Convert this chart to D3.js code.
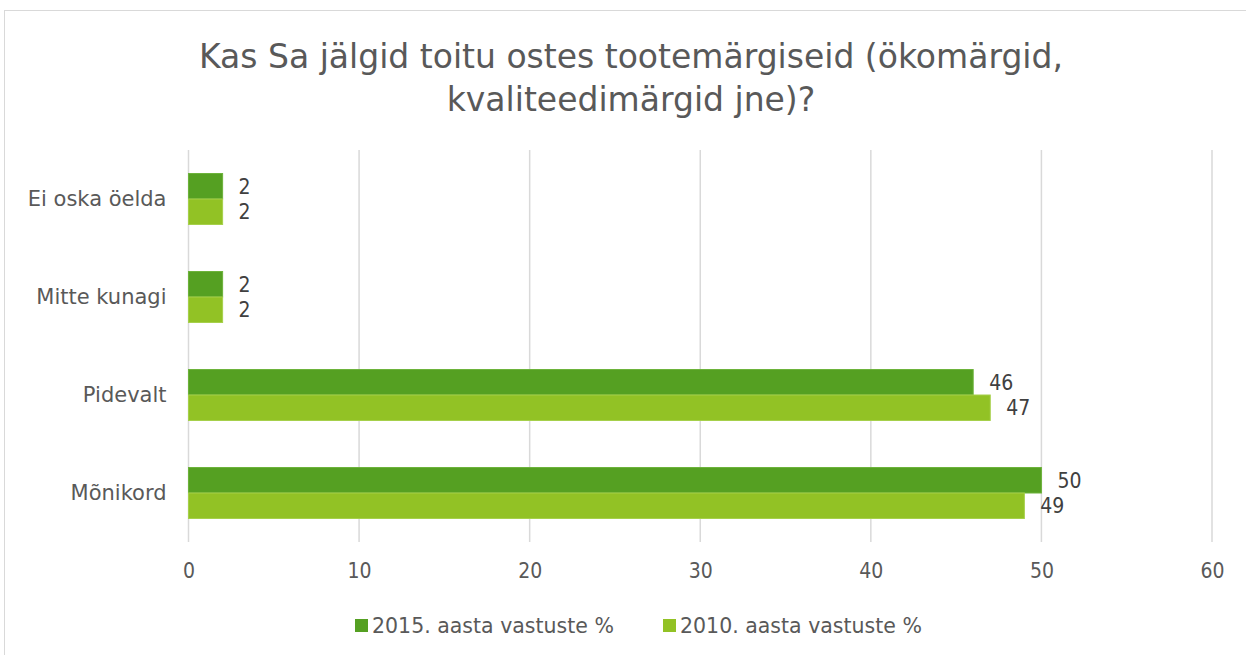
<!DOCTYPE html>
<html>
<head>
<meta charset="utf-8">
<script src="https://cdn.jsdelivr.net/npm/d3@7"></script>
<style>
    body { margin: 0; background: #fff; }
    svg text { font-family: "DejaVu Sans", sans-serif; }
</style>
</head>
<body>
<svg id="plate" width="1246" height="655"></svg>
<script>
var categories = ['Ei oska öelda', 'Mitte kunagi', 'Pidevalt', 'Mõnikord'];
var seriesNames = ['2015. aasta vastuste %', '2010. aasta vastuste %'];
var values2015 = [2, 2, 46, 50];
var values2010 = [2, 2, 47, 49];
var xTicks = [0, 10, 20, 30, 40, 50, 60];
var titleLines = ['Kas Sa jälgid toitu ostes tootemärgiseid (ökomärgid,', 'kvaliteedimärgid jne)?'];

var colors = ['#55a022', '#92c225'];
var strokes = ['#6cb23a', '#a6d04a'];
var numFont = '"DejaVu Sans Condensed", "DejaVu Sans", sans-serif';

var svg = d3.select('#plate');

// outer frame
svg.append('rect')
    .attr('x', 4.5).attr('y', 10.5)
    .attr('width', 1250).attr('height', 660)
    .attr('fill', '#fff')
    .attr('stroke', '#d9d9d9');

// title
svg.append('g').selectAll('text')
    .data(titleLines)
    .enter().append('text')
    .attr('x', 631)
    .attr('y', function(d, i) { return 68 + i * 43; })
    .attr('text-anchor', 'middle')
    .attr('fill', '#595959')
    .style('font-size', '33px')
    .text(function(d) { return d; });

var margin = {top: 150, left: 188.5};

var g = svg.append('g')
    .attr('transform', 'translate(' + margin.left + ',' + margin.top + ')');

var x = d3.scaleLinear().domain([0, 60]).range([0, 1212 - 188.5]);
var y = d3.scaleBand().domain(categories).range([0, 392]).paddingInner(0.48).paddingOuter(0.24);
var ySub = d3.scaleBand().domain([0, 1]).range([0, y.bandwidth()]);

// gridlines
g.append('g')
    .selectAll('line')
    .data(xTicks)
    .enter().append('line')
    .attr('x1', function(d) { return x(d); })
    .attr('x2', function(d) { return x(d); })
    .attr('y1', 0)
    .attr('y2', 392)
    .attr('stroke', '#d9d9d9')
    .attr('stroke-width', 1.5);

// x axis
var xAxis = g.append('g')
    .attr('transform', 'translate(0,392)')
    .call(d3.axisBottom(x).tickValues(xTicks).tickSize(0).tickPadding(21));
xAxis.select('.domain').remove();
xAxis.selectAll('text')
    .attr('fill', '#595959')
    .style('font-size', '21px')
    .style('font-family', numFont);

// y axis
var yAxis = g.append('g')
    .call(d3.axisLeft(y).tickSize(0).tickPadding(22));
yAxis.select('.domain').remove();
yAxis.selectAll('text')
    .attr('fill', '#595959')
    .style('font-size', '21px')
    .style('font-family', '"DejaVu Sans", sans-serif');

var series = [values2015, values2010];

series.forEach(function(vals, s) {
    var sg = g.append('g');
    sg.selectAll('rect')
        .data(vals)
        .enter().append('rect')
        .attr('x', 0)
        .attr('y', function(d, i) { return y(categories[i]) + ySub(s); })
        .attr('width', function(d) { return x(d); })
        .attr('height', ySub.bandwidth())
        .attr('fill', colors[s])
        .attr('stroke', strokes[s])
        .attr('stroke-width', 1);

    sg.selectAll('text')
        .data(vals)
        .enter().append('text')
        .attr('x', function(d) { return x(d) + 16; })
        .attr('y', function(d, i) { return y(categories[i]) + ySub(s) + ySub.bandwidth() / 2; })
        .attr('dy', '0.35em')
        .attr('fill', '#404040')
        .style('font-size', '21px')
        .style('font-family', numFont)
        .text(function(d) { return d; });
});

// legend
var legendX = [355, 663];
var legend = svg.append('g').selectAll('g')
    .data(seriesNames)
    .enter().append('g')
    .attr('transform', function(d, i) { return 'translate(' + legendX[i] + ',619)'; });
legend.append('rect')
    .attr('width', 13).attr('height', 13)
    .attr('fill', function(d, i) { return colors[i]; });
legend.append('text')
    .attr('x', 17)
    .attr('y', 7)
    .attr('dy', '0.35em')
    .attr('fill', '#595959')
    .style('font-size', '20.5px')
    .text(function(d) { return d; });
</script>
</body>
</html>
